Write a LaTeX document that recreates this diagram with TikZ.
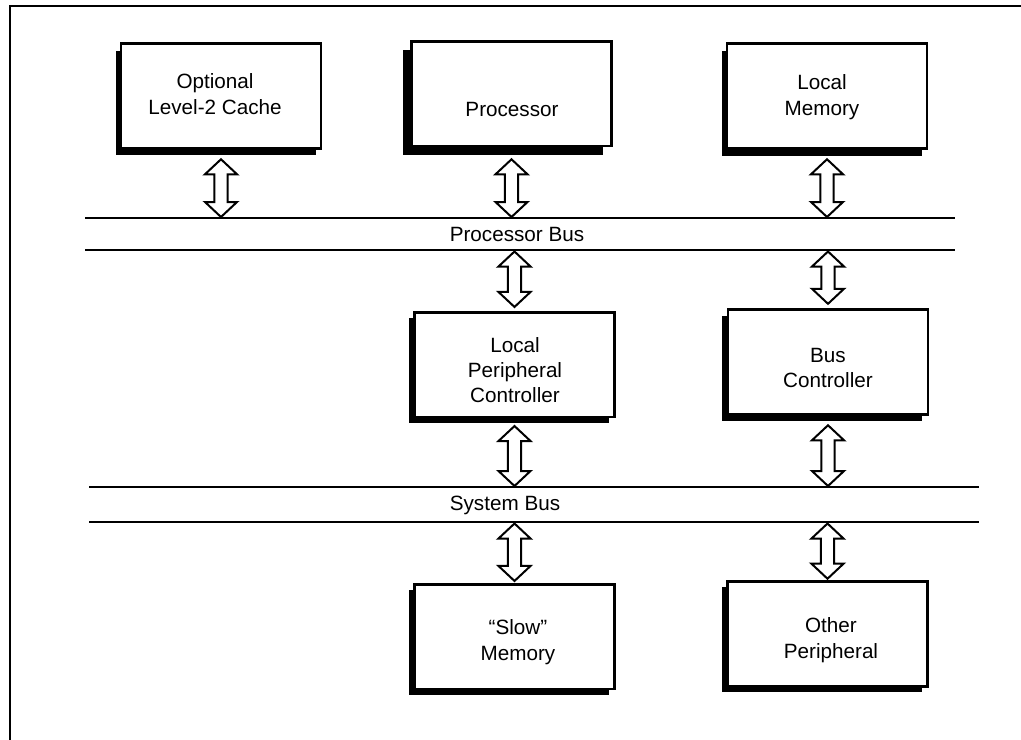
\documentclass[tikz,border=0pt]{standalone}
\usepackage{fontspec}
\setmainfont{Liberation Sans}
\usetikzlibrary{calc,shadows}
\begin{document}
\begin{tikzpicture}[x=0.75pt,y=-0.75pt,
  font=\fontsize{15.5}{19}\selectfont,
  box/.style 2 args={draw, fill=white, line width=1.9pt, line join=miter,
    minimum width=150pt, minimum height=78.4pt, inner sep=0pt,
    drop shadow={shadow xshift=#1, shadow yshift=#2, fill=black, opacity=1}},
  lbl/.style={align=center, inner sep=0pt},
  bus/.style={line width=1.9pt},
  frame/.style={line width=1.6pt, line cap=rect, line join=miter},
  % hollow double-headed bus arrow, drawn from the upper end to the lower end
  dbl/.style={draw, fill=white, line width=1.5pt, line join=miter,
    to path={let \p1=(\tikztostart), \p2=(\tikztotarget) in
      (\x1,\y1) -- ({\x1+12pt},{\y1-11.25pt}) -- ({\x1+4.9pt},{\y1-11.25pt})
      -- ({\x1+4.9pt},{\y2+11.25pt}) -- ({\x1+12pt},{\y2+11.25pt}) -- (\x1,\y2)
      -- ({\x1-12pt},{\y2+11.25pt}) -- ({\x1-4.9pt},{\y2+11.25pt})
      -- ({\x1-4.9pt},{\y1-11.25pt}) -- ({\x1-12pt},{\y1-11.25pt}) -- cycle}}
]
\useasboundingbox (0,0) rectangle (1021,739);

% outer frame (top and left edges)
\draw[frame] (1021,6) -| (10,739);

% bus lines
\coordinate (pbl) at (85,218);  \coordinate (pbr) at (955,218);
\coordinate (pbl2) at (85,250); \coordinate (pbr2) at (955,250);
\coordinate (sbl) at (89,487);  \coordinate (sbr) at (979,487);
\coordinate (sbl2) at (89,522); \coordinate (sbr2) at (979,522);
\draw[bus] (pbl) -- (pbr);
\draw[bus] (pbl2) -- (pbr2);
\draw[bus] (sbl) -- (sbr);
\draw[bus] (sbl2) -- (sbr2);
\coordinate (pbt) at (0,217);
\coordinate (pbb) at (0,251.5);
\coordinate (sbt) at (0,486);
\coordinate (sbb) at (0,523.5);

\node (pbus) [lbl] at (517,234) {Processor Bus};
\node (sbus) [lbl] at (505,505) {System Bus};

% blocks
\node (cache) [box={-3.4pt}{-5.2pt}] at (221,96) {};
\node (proc)  [box={-6.75pt}{-6.75pt}] at (511.5,93.5) {};
\node (lmem)  [box={-4pt}{-5.5pt}] at (827,96) {};
\node (lpc)   [box={-4pt}{-4.5pt}] at (514.5,364.5) {};
\node (busc)  [box={-4.2pt}{-4.7pt}] at (828,362) {};
\node (slow)  [box={-4pt}{-4.5pt}] at (514.5,636.5) {};
\node (other) [box={-4pt}{-4pt}] at (827.5,634) {};

\node (cache-t) [lbl] at (215,94) {Optional\\Level-2 Cache};
\node (proc-t)  [lbl] at (512,109) {Processor};
\node (lmem-t)  [lbl] at (822,97) {Local\\Memory};
\node (lpc-t)   [lbl] at (515,370) {Local\\Peripheral\\Controller};
\node (busc-t)  [lbl] at (828,368) {Bus\\Controller};
\node (slow-t)  [lbl] at (518,642) {“Slow”\\Memory};
\node (other-t) [lbl] at (831,640) {Other\\Peripheral};

% connections to the processor bus
\draw[dbl] ([yshift=-7.3pt]cache.south) to (cache.south |- pbt);
\draw[dbl] ([yshift=-9.2pt]proc.south) to (proc.south |- pbt);
\draw[dbl] ([yshift=-7.3pt]lmem.south) to (lmem.south |- pbt);
\draw[dbl] (lpc.north |- pbb) to ([yshift=3pt]lpc.north);
\draw[dbl] (busc.north |- pbb) to ([yshift=3.5pt]busc.north);

% connections to the system bus
\draw[dbl] ([yshift=-6pt]lpc.south) to (lpc.south |- sbt);
\draw[dbl] ([yshift=-7.3pt]busc.south) to (busc.south |- sbt);
\draw[dbl] (slow.north |- sbb) to ([yshift=1.5pt]slow.north);
\draw[dbl] (other.north |- sbb) to ([yshift=1.3pt]other.north);
\end{tikzpicture}
\end{document}
